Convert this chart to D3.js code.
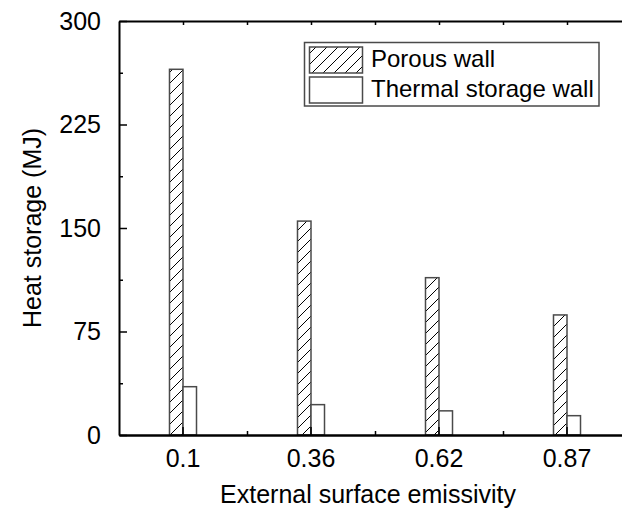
<!DOCTYPE html>
<html><head><meta charset="utf-8">
<script src="https://cdn.jsdelivr.net/npm/d3@7"></script>
<style>
html,body{margin:0;padding:0;background:#fff;}
svg{display:block;}
text{font-family:"Liberation Sans",Arial,sans-serif;fill:#000;}
</style></head>
<body>
<script>
const categories = ["0.1", "0.36", "0.62", "0.87"];
const series = ["Porous wall", "Thermal storage wall"];
const porousWall = [265, 155, 114, 87];
const thermalStorageWall = [35, 22, 17.5, 14];
const yTicks = [0, 75, 150, 225, 300];
const yMinorTicks = [37.5, 112.5, 187.5, 262.5];
const xTitle = "External surface emissivity";
const yTitle = "Heat storage (MJ)";

(function () {
const W = 622, H = 515;
const mLeft = 119, mRight = 631, mTop = 21, mBottom = 435;

const svg = d3.select("body").append("svg").attr("width", W).attr("height", H);

const defs = svg.append("defs");
const pat = defs.append("pattern").attr("id", "hatch")
  .attr("patternUnits", "userSpaceOnUse").attr("width", 11).attr("height", 11);
pat.append("path").attr("d", "M0,11 L11,0 M-3,3 L3,-3 M8,14 L14,8")
  .attr("stroke", "#000").attr("stroke-width", 1).attr("fill", "none");

const x = d3.scaleBand().domain(categories).range([mLeft, mRight]).padding(0);
const groupW = x.bandwidth() * 0.211;
const xs = d3.scaleBand().domain(series).range([-groupW / 2, groupW / 2]);
const y = d3.scaleLinear().domain([0, 300]).range([mBottom, mTop]);

const data = categories.map((c, i) => ({c, vals: [porousWall[i], thermalStorageWall[i]]}));
const fills = ["url(#hatch)", "#fff"];

const g = svg.append("g");
data.forEach(d => {
  d.vals.forEach((v, j) => {
    const cx = x(d.c) + x.bandwidth() / 2;
    g.append("rect")
      .attr("x", cx + xs(series[j]))
      .attr("y", y(v))
      .attr("width", xs.bandwidth())
      .attr("height", y(0) - y(v))
      .attr("fill", fills[j])
      .attr("stroke", "#4a4a4a").attr("stroke-width", 1.5);
  });
});

// left axis
const yAxis = d3.axisLeft(y).tickValues(yTicks).tickSizeInner(-8).tickSizeOuter(0).tickPadding(18);
const ya = svg.append("g").attr("transform", `translate(${mLeft},0)`).call(yAxis);
ya.select(".domain").attr("stroke-width", 2);
ya.selectAll(".tick line").attr("stroke-width", 1.5);
ya.selectAll(".tick text").style("font-size", "25px").attr("font-family", null);
svg.append("g").attr("transform", `translate(${mLeft},0)`)
  .call(d3.axisLeft(y).tickValues(yMinorTicks).tickSizeInner(-4).tickSizeOuter(0).tickFormat(""))
  .call(s => s.select(".domain").remove())
  .selectAll(".tick line").attr("stroke-width", 1.5);

// bottom axis
const xAxis = d3.axisBottom(x).tickSizeInner(-8).tickSizeOuter(0).tickPadding(14);
const xa = svg.append("g").attr("transform", `translate(0,${mBottom})`).call(xAxis);
xa.select(".domain").attr("stroke-width", 2.5);
xa.selectAll(".tick line").attr("stroke-width", 1.5);
xa.selectAll(".tick text").style("font-size", "25px").attr("font-family", null);
const xMinor = d3.scaleLinear().domain([0, categories.length]).range([mLeft, mRight]);
svg.append("g").attr("transform", `translate(0,${mBottom})`)
  .call(d3.axisBottom(xMinor).tickValues(d3.range(1, categories.length)).tickSizeInner(-4).tickSizeOuter(0).tickFormat(""))
  .call(s => s.select(".domain").remove())
  .selectAll(".tick line").attr("stroke-width", 1.5);

// top axis
const xTop = d3.scaleLinear().domain([0, categories.length * 2]).range([mLeft, mRight]);
const ta = svg.append("g").attr("transform", `translate(0,${mTop})`)
  .call(d3.axisTop(xTop).tickValues(d3.range(1, categories.length * 2)).tickSizeInner(-4).tickSizeOuter(0).tickFormat(""));
ta.select(".domain").attr("stroke-width", 2);
ta.selectAll(".tick line").attr("stroke-width", 1.5);

// right axis
const ra = svg.append("g").attr("transform", `translate(${mRight},0)`)
  .call(d3.axisRight(y).tickValues(yTicks).tickSizeInner(-8).tickSizeOuter(0).tickFormat(""));
ra.select(".domain").attr("stroke-width", 2);

// titles
svg.append("text").attr("x", 368).attr("y", 503).attr("text-anchor", "middle")
  .style("font-size", "25px").text(xTitle);
svg.append("text").attr("transform", `translate(41,${(mTop + mBottom) / 2}) rotate(-90)`)
  .attr("text-anchor", "middle").style("font-size", "25px").text(yTitle);

// legend
const lg = svg.append("g");
lg.append("rect").attr("x", 304.5).attr("y", 42.5).attr("width", 294.5).attr("height", 63.5)
  .attr("fill", "#fff").attr("stroke", "#4a4a4a").attr("stroke-width", 1.5);
series.forEach((s, j) => {
  const yy = 47 + j * 30;
  lg.append("rect").attr("x", 309.5).attr("y", yy).attr("width", 53).attr("height", 26)
    .attr("fill", fills[j]).attr("stroke", "#4a4a4a").attr("stroke-width", 1.5);
  lg.append("text").attr("x", 371).attr("y", yy + 20).style("font-size", "24px").text(s);
});
})();
</script>
</body></html>
